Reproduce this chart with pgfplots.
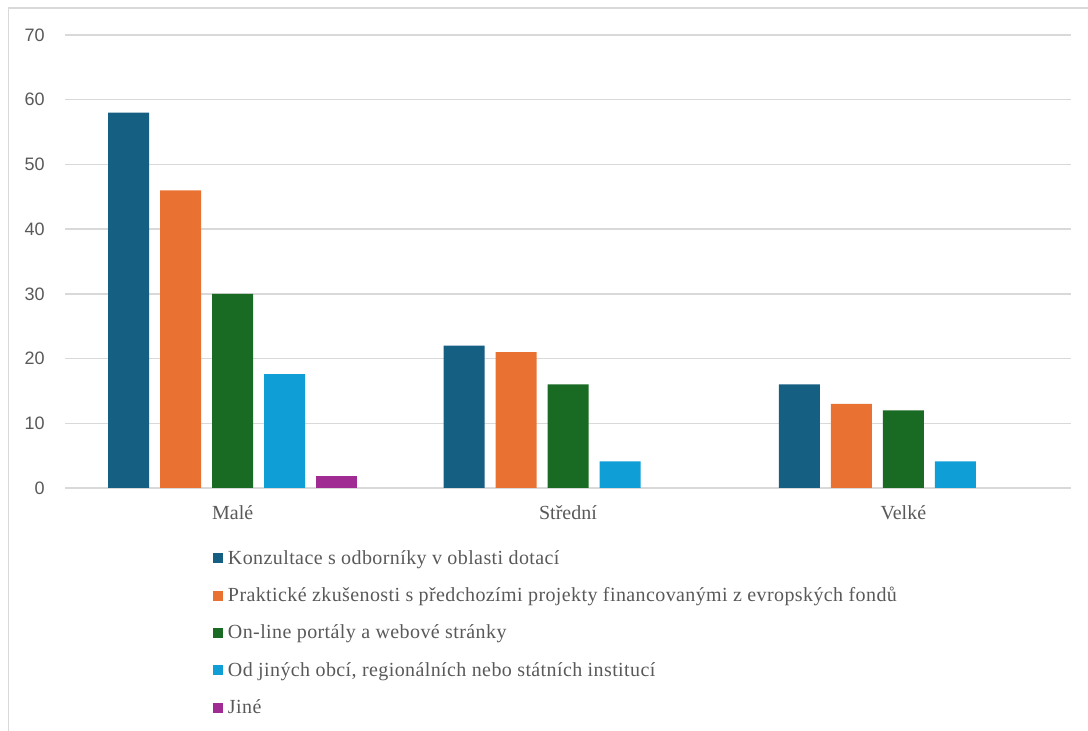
\documentclass[border=0pt]{standalone}
\usepackage{pgfplots}
\pgfplotsset{compat=1.18}
\usepackage{fontspec}
\setmainfont{Liberation Serif}
\newfontfamily\tickfont{Liberation Sans}
\newfontfamily\legfont[LetterSpace=2]{Liberation Serif}
\definecolor{c1}{HTML}{156082}
\definecolor{c2}{HTML}{E97132}
\definecolor{c3}{HTML}{196B24}
\definecolor{c4}{HTML}{0F9ED5}
\definecolor{c5}{HTML}{A02B93}
\definecolor{gridc}{HTML}{D9D9D9}
\definecolor{txtc}{HTML}{595959}
\pgfplotsset{sqbar/.style={draw=none, fill=#1,
  legend image code/.code={\fill[#1] (0pt,-3pt) rectangle (7.5pt,4.5pt);}}}
\begin{document}
\begin{tikzpicture}[x=1pt,y=1pt]
\path[use as bounding box] (0,0) rectangle (816,548.25);
\draw[gridc, line width=0.9pt] (6.4,0) -- (6.4,542.25) -- (816,542.25);
\begin{axis}[
  at={(48.75pt,182.25pt)}, anchor=south west,
  scale only axis, width=754.5pt, height=339.75pt,
  xmin=-0.5, xmax=2.5, ymin=0, ymax=70,
  enlargelimits=false,
  ybar=8.25pt, bar width=30.75pt,
  xtick={0,1,2}, xticklabels={Malé, Střední, Velké},
  ytick={0,10,...,70},
  ymajorgrids, grid style={draw=gridc, line width=1.1pt},
  axis line style={draw=none},
  major tick length=0pt,
  /pgf/number format/assume math mode=true,
  yticklabel style={font=\tickfont\fontsize{13.5}{16}\selectfont, text=txtc, anchor=east, inner sep=0pt, xshift=-15pt},
  xticklabel style={font=\fontsize{15}{18}\selectfont, text=txtc, anchor=base, inner sep=0pt, yshift=-24pt},
  legend style={at={(0.1471,-0.136)}, anchor=north west, draw=none, fill=none,
    inner sep=0pt, outer sep=0pt, row sep=13.5pt,
    font=\legfont\fontsize{15}{18}\selectfont, text=txtc,
    nodes={inner sep=0pt, text height=11pt, text depth=3.5pt},
    /tikz/every odd column/.append style={column sep=3.75pt}},
  legend cell align=left,
]
\addplot[sqbar=c1] coordinates {(0,58) (1,22) (2,16)};
\addlegendentry{Konzultace s odborníky v oblasti dotací}
\addplot[sqbar=c2] coordinates {(0,46) (1,21) (2,13)};
\addlegendentry{Praktické zkušenosti s předchozími projekty financovanými z evropských fondů}
\addplot[sqbar=c3] coordinates {(0,30) (1,16) (2,12)};
\addlegendentry{On-line portály a webové stránky}
\addplot[sqbar=c4] coordinates {(0,17.6) (1,4.1) (2,4.1)};
\addlegendentry{Od jiných obcí, regionálních nebo státních institucí}
\addplot[sqbar=c5] coordinates {(0,1.9)};
\addlegendentry{Jiné}
\end{axis}
\end{tikzpicture}
\end{document}
